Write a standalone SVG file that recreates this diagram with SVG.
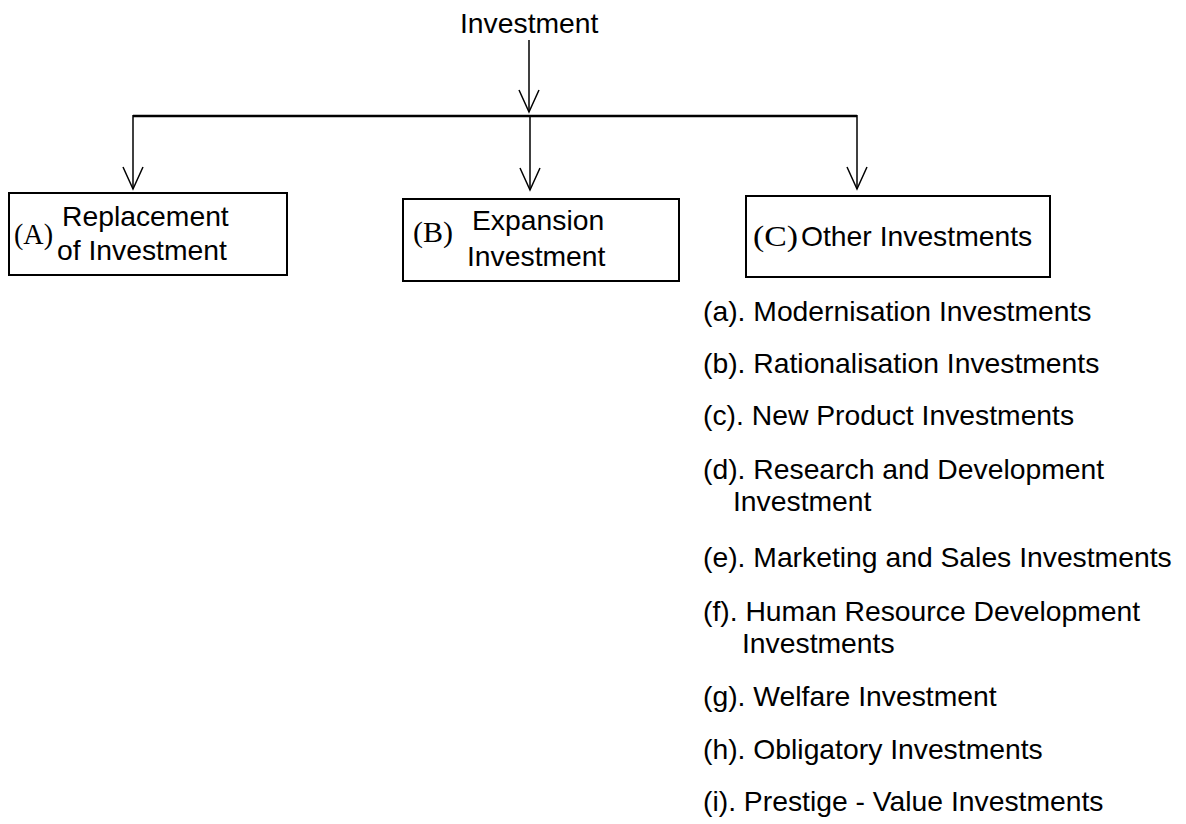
<svg xmlns="http://www.w3.org/2000/svg" width="1186" height="824" viewBox="0 0 1186 824">
<style>
.t{font-family:"Liberation Sans",Arial,sans-serif;font-size:28.3px;fill:#000}
.s{font-family:"Liberation Serif","Times New Roman",serif;font-size:29px;fill:#000}
.box{fill:#fff;stroke:#000;stroke-width:2}
.ln{fill:none;stroke:#000;stroke-width:1.5}
.bar{fill:none;stroke:#000;stroke-width:2.5}
</style>
<rect width="1186" height="824" fill="#fff"/>
<g id="connectors">
<polyline class="ln" points="529,40 529,112"/>
<polyline class="ln" points="519,90 529,112 539,90"/>
<polyline class="bar" points="133,116 857,116"/>
<polyline class="ln" points="133,115 133,189"/>
<polyline class="ln" points="123,167 133,189 143,167"/>
<polyline class="ln" points="530,116 530,190"/>
<polyline class="ln" points="520,168 530,190 540,168"/>
<polyline class="ln" points="857,115 857,189"/>
<polyline class="ln" points="847,167 857,189 867,167"/>
</g>
<g id="root"><text class="t" x="460" y="33">Investment</text></g>
<g id="nodeA">
<rect class="box" x="9" y="193" width="278" height="82"/>
<text class="s" x="14" y="244" textLength="39" lengthAdjust="spacingAndGlyphs">(A)</text>
<text class="t" x="62" y="226">Replacement</text>
<text class="t" x="57" y="260">of Investment</text>
</g>
<g id="nodeB">
<rect class="box" x="403" y="199" width="276" height="82"/>
<text class="s" x="413" y="242" textLength="40" lengthAdjust="spacingAndGlyphs">(B)</text>
<text class="t" x="472" y="230">Expansion</text>
<text class="t" x="467" y="266">Investment</text>
</g>
<g id="nodeC">
<rect class="box" x="746" y="196" width="304" height="81"/>
<text class="s" x="753" y="246" textLength="45" lengthAdjust="spacingAndGlyphs">(C)</text>
<text class="t" x="801" y="246">Other Investments</text>
</g>
<g id="list">
<text class="t" x="703" y="321">(a). Modernisation Investments</text>
<text class="t" x="703" y="373">(b). Rationalisation Investments</text>
<text class="t" x="703" y="425">(c). New Product Investments</text>
<text class="t" x="703" y="479">(d). Research and Development</text>
<text class="t" x="733" y="511">Investment</text>
<text class="t" x="703" y="567">(e). Marketing and Sales Investments</text>
<text class="t" x="703" y="621">(f). Human Resource Development</text>
<text class="t" x="742" y="653">Investments</text>
<text class="t" x="703" y="706">(g). Welfare Investment</text>
<text class="t" x="703" y="759">(h). Obligatory Investments</text>
<text class="t" x="703" y="811">(i). Prestige - Value Investments</text>
</g>
</svg>
